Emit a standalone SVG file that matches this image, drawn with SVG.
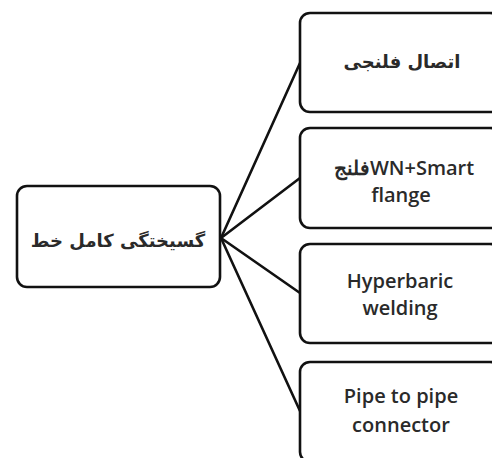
<svg xmlns="http://www.w3.org/2000/svg" width="492" height="458" viewBox="0 0 492 458">
<style>
.box{fill:#fff;stroke:#111;stroke-width:2.6}
.ln{fill:none;stroke:#111;stroke-width:2.6;stroke-linecap:round}
.en{font-family:"Open Sans","Liberation Sans",sans-serif;font-weight:600;font-size:20px;fill:#2a2a2a;text-anchor:middle}
.ar{font-family:"DejaVu Sans","Noto Sans",sans-serif;font-weight:bold;font-size:18px;fill:#2a2a2a;text-anchor:middle}
</style>
<rect width="492" height="458" fill="#fff"/>
<g id="connectors">
<line class="ln" x1="221" y1="238" x2="300" y2="63"/>
<line class="ln" x1="221" y1="238" x2="300" y2="178"/>
<line class="ln" x1="221" y1="238" x2="300" y2="293"/>
<line class="ln" x1="221" y1="238" x2="300" y2="411"/>
</g>
<g id="root">
<rect class="box" x="17" y="186" width="203" height="101" rx="10"/>
<text class="ar" x="118" y="247" direction="rtl">گسیختگی کامل خط</text>
</g>
<g id="n1">
<rect class="box" x="300" y="13" width="200" height="99" rx="10"/>
<text class="ar" x="402" y="68" direction="rtl">اتصال فلنجی</text>
</g>
<g id="n2">
<rect class="box" x="300" y="128" width="200" height="100" rx="10"/>
<text class="en" x="404" y="175">فلنجWN+Smart</text>
<text class="en" x="401" y="202">flange</text>
</g>
<g id="n3">
<rect class="box" x="300" y="244" width="200" height="99" rx="10"/>
<text class="en" x="400" y="288">Hyperbaric</text>
<text class="en" x="400" y="315">welding</text>
</g>
<g id="n4">
<rect class="box" x="300" y="362" width="200" height="100" rx="10"/>
<text class="en" x="401" y="403">Pipe to pipe</text>
<text class="en" x="401" y="432">connector</text>
</g>
</svg>
